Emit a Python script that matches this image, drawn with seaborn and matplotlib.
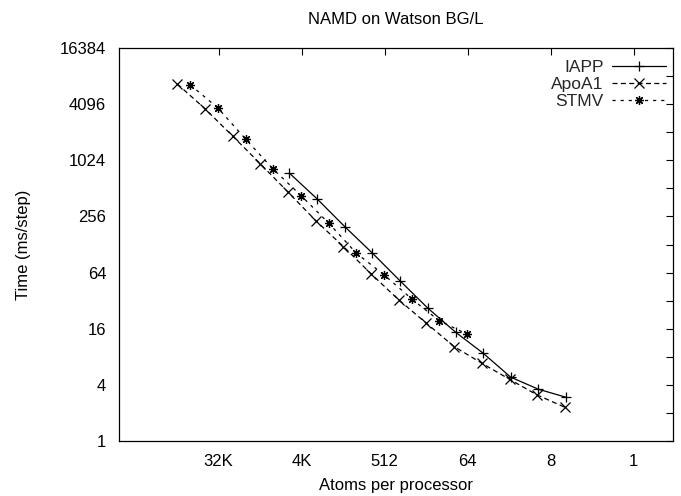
import matplotlib
matplotlib.use("Agg")
import matplotlib.pyplot as plt
import matplotlib.ticker as mticker
import seaborn as sns
import pandas as pd

# ---- data (atoms per processor, time in ms/step) ----
iapp_atoms = [5570, 2785, 1392.5, 696.25, 348.1, 174.1, 87.0, 43.5, 21.8, 10.9, 5.44]
iapp_time = [746, 395, 199, 103.4, 52.1, 26.6, 14.7, 8.73, 4.83, 3.59, 2.94]

apoa1_atoms = [92224, 46112, 23056, 11528, 5764, 2882, 1441, 720.5, 360.3, 180.1,
               90.1, 45.0, 22.5, 11.3, 5.63]
apoa1_time = [6740, 3660, 1860, 939, 467, 231, 121.7, 62.0, 32.6, 18.3,
              10.3, 6.82, 4.59, 3.12, 2.30]

stmv_atoms = [66664, 33332, 16666, 8333, 4166, 2083, 1041.6, 520.8, 260.4, 130.2, 65.1]
stmv_time = [6610, 3720, 1730, 820, 429, 217, 103.4, 60.5, 33.4, 19.4, 14.0]

series_names = ["IAPP", "ApoA1", "STMV"]
x_ticks = [32768, 4096, 512, 64, 8, 1]
x_tick_labels = ["32K", "4K", "512", "64", "8", "1"]
y_ticks = [1, 4, 16, 64, 256, 1024, 4096, 16384]
y_tick_labels = ["1", "4", "16", "64", "256", "1024", "4096", "16384"]

df = pd.concat([
    pd.DataFrame({"atoms": iapp_atoms, "time": iapp_time, "series": "IAPP"}),
    pd.DataFrame({"atoms": apoa1_atoms, "time": apoa1_time, "series": "ApoA1"}),
    pd.DataFrame({"atoms": stmv_atoms, "time": stmv_time, "series": "STMV"}),
], ignore_index=True)

sns.set_theme(style="white")
plt.rcParams["font.family"] = ["Liberation Sans", "DejaVu Sans"]
plt.rcParams["font.size"] = 12

fig = plt.figure(figsize=(6.81, 4.96), dpi=100)
ax = fig.add_axes([0.1743, 0.1109, 0.988 - 0.1743, 0.9032 - 0.1109])

sns.lineplot(
    data=df, x="atoms", y="time", hue="series", style="series",
    hue_order=series_names, style_order=series_names,
    palette={"IAPP": "black", "ApoA1": "black", "STMV": "black"},
    markers={"IAPP": "+", "ApoA1": "x", "STMV": (8, 2, 0)},
    dashes={"IAPP": "", "ApoA1": (4, 2.7), "STMV": (2.5, 4)},
    markersize=6.5, markeredgewidth=0.9, markeredgecolor="black",
    linewidth=0.9, estimator=None, sort=False, ax=ax, legend=True,
)

ax.set_xscale("log", base=2)
ax.set_yscale("log", base=2)
ax.set_xlim(400000, 0.377)
ax.set_ylim(1, 16384)

ax.xaxis.set_major_locator(mticker.FixedLocator(x_ticks))
ax.xaxis.set_major_formatter(mticker.FixedFormatter(x_tick_labels))
ax.xaxis.set_minor_locator(mticker.NullLocator())
ax.yaxis.set_major_locator(mticker.FixedLocator(y_ticks))
ax.yaxis.set_major_formatter(mticker.FixedFormatter(y_tick_labels))
ax.yaxis.set_minor_locator(mticker.FixedLocator([2, 8, 32, 128, 512, 2048, 8192]))
ax.yaxis.set_minor_formatter(mticker.NullFormatter())

ax.tick_params(which="both", direction="in", top=True, right=True,
               color="black", width=0.8, labelsize=12, labelcolor="black")
ax.tick_params(which="major", length=5)
ax.tick_params(which="minor", length=5)
ax.tick_params(axis="x", pad=9.5)
ax.tick_params(axis="y", pad=9)

for sp in ax.spines.values():
    sp.set_color("black")
    sp.set_linewidth(0.9)
    sp.set_visible(True)

ax.set_xlabel("Atoms per processor", fontsize=12, color="black", labelpad=6)
ax.set_ylabel("Time (ms/step)", fontsize=12, color="black", labelpad=21)
ax.set_title("NAMD on Watson BG/L", fontsize=12, color="black", pad=17)

handles, labels = ax.get_legend_handles_labels()
for h in handles:
    try:
        h.set_markeredgecolor("black")
        h.set_markeredgewidth(0.9)
    except Exception:
        pass
ax.legend(handles, labels, loc="upper right", bbox_to_anchor=(0.988, 0.970),
          frameon=False, markerfirst=False, handlelength=3.1,
          handletextpad=0.5, labelspacing=0.12, fontsize=12.5,
          borderaxespad=0.0, borderpad=0.0)

fig.savefig("out.png", dpi=100)
